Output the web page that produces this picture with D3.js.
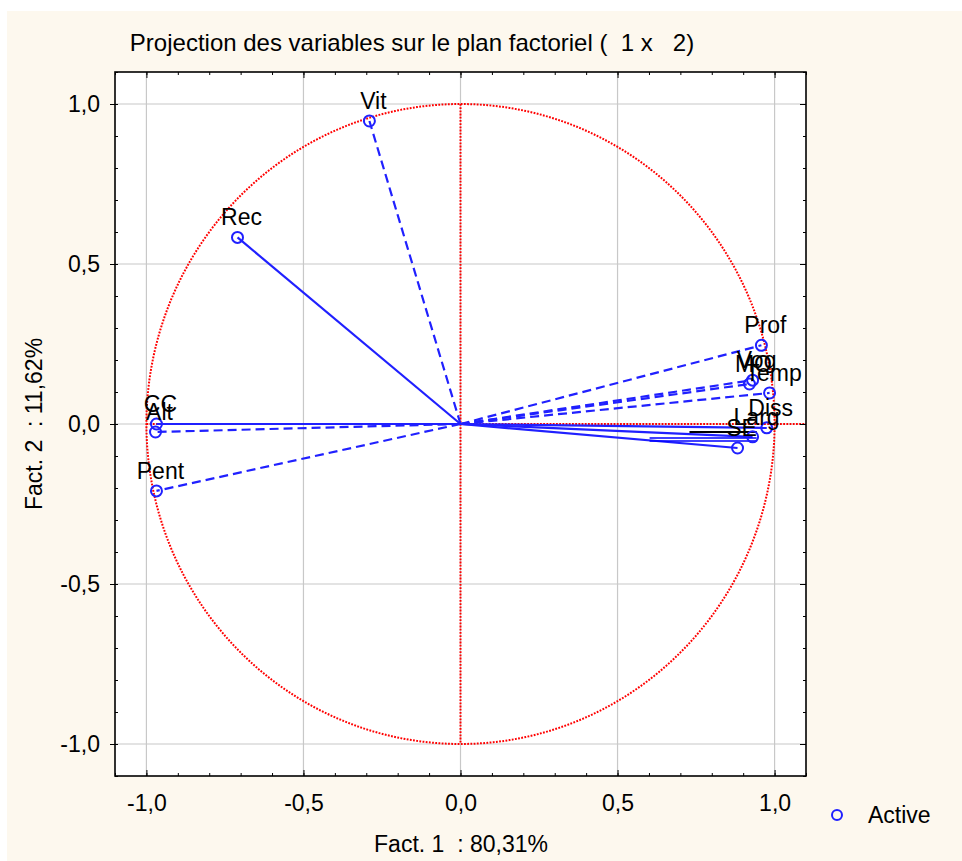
<!DOCTYPE html>
<html>
<head>
<meta charset="utf-8">
<script src="https://cdn.jsdelivr.net/npm/d3@7"></script>
<style>
  html, body { margin: 0; padding: 0; background: #ffffff; }
  svg { display: block; }
  text { font-family: "Liberation Sans", Arial, sans-serif; fill: #000; }
</style>
</head>
<body>
<svg id="chart" width="962" height="861"></svg>
<script>
// Variable projections on factors 1 and 2
const variables = ["Vit", "Rec", "CC", "Alt", "Pent", "Prof", "Vog", "MO", "Temp", "Diss", "Larg", "SE"];
const fact1 = [-0.290, -0.710, -0.968, -0.971, -0.968, 0.958, 0.930, 0.920, 0.984, 0.975, 0.930, 0.882];
const fact2 = [0.947, 0.583, 0.000, -0.025, -0.209, 0.246, 0.137, 0.125, 0.097, -0.012, -0.040, -0.075];
// Line style of the vector joining the origin to each variable
const dashed = [true, false, false, true, true, true, true, true, true, false, false, false];

// Stray segments drawn over the right-hand cluster
const strayX1 = [0.729, 0.602, 0.602];
const strayX2 = [0.943, 0.943, 0.943];
const strayY = [-0.025, -0.044, -0.053];
const strayColor = ["#000000", "#0000ff", "#0000ff"];

const majorTicks = [-1.0, -0.5, 0.0, 0.5, 1.0];
const minorTicks = d3.range(-11, 12).map(i => i / 10);

const title = "Projection des variables sur le plan factoriel (  1 x   2)";
const xTitle = "Fact. 1  : 80,31%";
const yTitle = "Fact. 2  : 11,62%";
const legendLabel = "Active";

const svg = d3.select("#chart");
const plot = { left: 115, right: 806, top: 72, bottom: 776 };

const x = d3.scaleLinear().domain([-1.1, 1.1]).range([plot.left, plot.right]);
const y = d3.scaleLinear().domain([-1.1, 1.1]).range([plot.bottom, plot.top]);
const fmt = v => d3.format(".1f")(v).replace(".", ",").replace("−", "-");

// Cream page background
svg.append("rect").attr("x", 7).attr("y", 11).attr("width", 955).attr("height", 850).attr("fill", "#fdf8ee");

// Plot area
svg.append("rect")
  .attr("x", plot.left).attr("y", plot.top)
  .attr("width", plot.right - plot.left).attr("height", plot.bottom - plot.top)
  .attr("fill", "#ffffff");

// Grid lines at major ticks
const grid = svg.append("g").attr("stroke", "#c8c8c8").attr("stroke-width", 1.2);
grid.selectAll(".gx").data(majorTicks).join("line")
  .attr("x1", d => x(d)).attr("x2", d => x(d))
  .attr("y1", plot.top).attr("y2", plot.bottom);
grid.selectAll(".gy").data(majorTicks).join("line")
  .attr("y1", d => y(d)).attr("y2", d => y(d))
  .attr("x1", plot.left).attr("x2", plot.right);

// Unit circle and red axes through the origin
const red = svg.append("g").attr("fill", "none").attr("stroke", "#ff0000")
  .attr("stroke-width", 2).attr("stroke-dasharray", "1.8,1.4");
const circlePts = d3.range(0, 361, 1).map(a => [Math.cos(a * Math.PI / 180), Math.sin(a * Math.PI / 180)]);
red.append("path").attr("d", d3.line().x(d => x(d[0])).y(d => y(d[1]))(circlePts));
red.append("line").attr("x1", x(-1)).attr("x2", x(1.1)).attr("y1", y(0)).attr("y2", y(0));
red.append("line").attr("x1", x(0)).attr("x2", x(0)).attr("y1", y(1)).attr("y2", y(-1));

// Axes (ticks drawn inward on all four sides)
function axisGroup(axis, transform) {
  return svg.append("g").attr("transform", transform).call(axis)
    .call(g => g.select(".domain").remove())
    .call(g => g.selectAll("line").attr("stroke", "#000").attr("stroke-width", 1));
}
axisGroup(d3.axisBottom(x).tickValues(minorTicks).tickSize(-3).tickFormat(""), `translate(0,${plot.bottom})`);
axisGroup(d3.axisTop(x).tickValues(minorTicks).tickSize(-3).tickFormat(""), `translate(0,${plot.top})`);
axisGroup(d3.axisLeft(y).tickValues(minorTicks).tickSize(-3).tickFormat(""), `translate(${plot.left},0)`);
axisGroup(d3.axisRight(y).tickValues(minorTicks).tickSize(-3).tickFormat(""), `translate(${plot.right},0)`);

const xAxis = axisGroup(d3.axisBottom(x).tickValues(majorTicks).tickSize(-6).tickPadding(19).tickFormat(fmt),
  `translate(0,${plot.bottom})`);
xAxis.selectAll("text").attr("font-size", 23).attr("dy", "0.71em");
axisGroup(d3.axisTop(x).tickValues(majorTicks).tickSize(-6).tickFormat(""), `translate(0,${plot.top})`);
const yAxis = axisGroup(d3.axisLeft(y).tickValues(majorTicks).tickSize(5).tickPadding(10).tickFormat(fmt),
  `translate(${plot.left},0)`);
yAxis.selectAll("text").attr("font-size", 23);
axisGroup(d3.axisRight(y).tickValues(majorTicks).tickSize(-6).tickFormat(""), `translate(${plot.right},0)`);

// Vectors from the origin to each variable
const data = variables.map((name, i) => ({ name, f1: fact1[i], f2: fact2[i], dashed: dashed[i] }));
svg.append("g").attr("fill", "none").attr("stroke", "#2020ff").attr("stroke-width", 2.2)
  .selectAll("line").data(data).join("line")
  .attr("x1", x(0)).attr("y1", y(0))
  .attr("x2", d => x(d.f1)).attr("y2", d => y(d.f2))
  .attr("stroke-dasharray", d => d.dashed ? "9,5" : null);

// Stray segments
svg.append("g").selectAll("line").data(strayY).join("line")
  .attr("x1", (d, i) => x(strayX1[i])).attr("x2", (d, i) => x(strayX2[i]))
  .attr("y1", d => y(d)).attr("y2", d => y(d))
  .attr("stroke", (d, i) => strayColor[i]).attr("stroke-width", (d, i) => i === 0 ? 2.2 : 1.5);

// Variable markers
svg.append("g").selectAll("circle").data(data).join("circle")
  .attr("cx", d => x(d.f1)).attr("cy", d => y(d.f2)).attr("r", 5.5)
  .attr("fill", "none").attr("stroke", "#2020ff").attr("stroke-width", 2);

// Variable labels
svg.append("g").selectAll("text").data(data).join("text")
  .attr("x", d => x(d.f1) + 4).attr("y", d => y(d.f2) - 12)
  .attr("text-anchor", "middle").attr("font-size", 23)
  .text(d => d.name);

// Frame
svg.append("rect")
  .attr("x", plot.left).attr("y", plot.top)
  .attr("width", plot.right - plot.left).attr("height", plot.bottom - plot.top)
  .attr("fill", "none").attr("stroke", "#000").attr("stroke-width", 1.6);

// Titles
svg.append("text").attr("x", 412).attr("y", 51).attr("text-anchor", "middle")
  .attr("font-size", 24).style("white-space", "pre").text(title);
svg.append("text").attr("x", 461).attr("y", 852).attr("text-anchor", "middle")
  .attr("font-size", 23).style("white-space", "pre").text(xTitle);
svg.append("text").attr("transform", `translate(42,424) rotate(-90)`).attr("text-anchor", "middle")
  .attr("font-size", 23).style("white-space", "pre").text(yTitle);

// Legend
svg.append("circle").attr("cx", 837).attr("cy", 815).attr("r", 5)
  .attr("fill", "none").attr("stroke", "#2020ff").attr("stroke-width", 2);
svg.append("text").attr("x", 868).attr("y", 823).attr("font-size", 23).text(legendLabel);
</script>
</body>
</html>
